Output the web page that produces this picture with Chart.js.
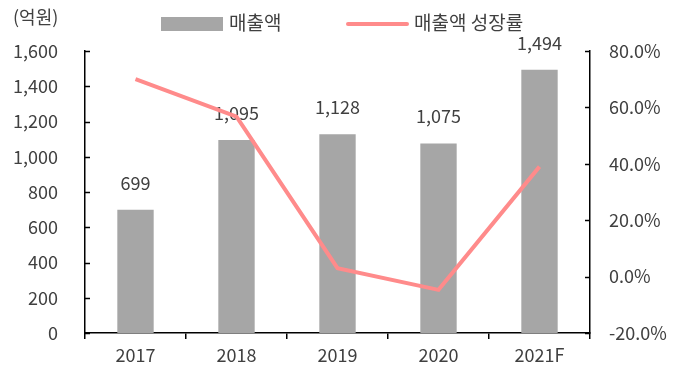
<!DOCTYPE html>
<html>
<head>
<meta charset="utf-8">
<script src="https://cdn.jsdelivr.net/npm/chart.js@4/dist/chart.umd.min.js"></script>
<style>
  html, body { margin: 0; padding: 0; background: #fff; }
  #wrap { width: 680px; height: 383px; position: relative; }
</style>
</head>
<body>
<div id="wrap"><canvas id="salesChart" width="680" height="383"></canvas></div>
<script>
'use strict';

const years = ['2017', '2018', '2019', '2020', '2021F'];
const sales = [699, 1095, 1128, 1075, 1494];
const growth = [70.0, 56.7, 3.0, -4.7, 39.0];
const leftTicks = [0, 200, 400, 600, 800, 1000, 1200, 1400, 1600];
const rightTicks = [-20, 0, 20, 40, 60, 80];

const unitLabel = '(억원)';
const barLabel = '매출액';
const lineLabel = '매출액 성장률';

const textColor = '#404040';
const barColor = '#a6a6a6';
const lineColor = '#ff8b8b';
const fontFamily = '"Noto Sans CJK KR", "Noto Sans", sans-serif';

// labels above bars, drawn under the line
const barValues = {
  id: 'barValues',
  afterDatasetDraw(chart, args) {
    if (args.index !== 1) return;
    const ctx = chart.ctx;
    ctx.save();
    ctx.fillStyle = textColor;
    ctx.font = '18px ' + fontFamily;
    ctx.textAlign = 'center';
    ctx.textBaseline = 'middle';
    args.meta.data.forEach((bar, i) => {
      ctx.fillText(sales[i].toLocaleString('en-US'), bar.x, bar.y - 27);
    });
    ctx.restore();
  }
};

// inward tick marks on both value axes, legend and unit
const decorations = {
  id: 'decorations',
  afterDraw(chart) {
    const ctx = chart.ctx;
    const area = chart.chartArea;
    const yL = chart.scales.y;
    const yR = chart.scales.y1;

    ctx.save();
    ctx.strokeStyle = '#000';
    ctx.lineWidth = 1.5;
    leftTicks.forEach(v => {
      const py = Math.round(yL.getPixelForValue(v)) + 0.5;
      ctx.beginPath();
      ctx.moveTo(area.left, py);
      ctx.lineTo(area.left + 5, py);
      ctx.stroke();
    });
    rightTicks.forEach(v => {
      const py = Math.round(yR.getPixelForValue(v)) + 0.5;
      ctx.beginPath();
      ctx.moveTo(area.right, py);
      ctx.lineTo(area.right - 5, py);
      ctx.stroke();
    });

    ctx.fillStyle = textColor;
    ctx.textAlign = 'left';
    ctx.textBaseline = 'middle';
    ctx.font = '18px ' + fontFamily;
    ctx.fillText(unitLabel, 13, 17);

    // legend
    ctx.fillStyle = barColor;
    ctx.fillRect(161, 17, 62, 14);
    ctx.fillStyle = textColor;
    ctx.font = '19px ' + fontFamily;
    ctx.fillText(barLabel, 229, 23);

    ctx.strokeStyle = lineColor;
    ctx.lineWidth = 4;
    ctx.lineCap = 'round';
    ctx.beginPath();
    ctx.moveTo(348, 24);
    ctx.lineTo(407, 24);
    ctx.stroke();
    ctx.fillText(lineLabel, 414, 23);
    ctx.restore();
  }
};

new Chart(document.getElementById('salesChart').getContext('2d'), {
  type: 'bar',
  data: {
    labels: years,
    datasets: [
      {
        type: 'line',
        label: lineLabel,
        data: growth,
        yAxisID: 'y1',
        borderColor: lineColor,
        borderWidth: 4,
        pointRadius: 0,
        tension: 0,
        order: 0
      },
      {
        type: 'bar',
        label: barLabel,
        data: sales,
        yAxisID: 'y',
        backgroundColor: barColor,
        barPercentage: 0.36,
        categoryPercentage: 1,
        order: 1
      }
    ]
  },
  plugins: [barValues, decorations],
  options: {
    responsive: false,
    animation: false,
    devicePixelRatio: 1,
    layout: { padding: { top: 51, left: 0, right: 0, bottom: 0 } },
    plugins: {
      legend: { display: false },
      tooltip: { enabled: false }
    },
    scales: {
      x: {
        offset: true,
        grid: {
          offset: true,
          drawOnChartArea: false,
          drawTicks: true,
          tickLength: 6,
          color: '#000',
          lineWidth: 1.5
        },
        border: { display: true, color: '#000', width: 1.5 },
        ticks: {
          color: textColor,
          font: { family: fontFamily, size: 18 },
          padding: 5
        },
        afterFit(scale) { scale.height = 50; }
      },
      y: {
        position: 'left',
        min: 0,
        max: 1600,
        afterBuildTicks(scale) { scale.ticks = leftTicks.map(v => ({ value: v })); },
        grid: { display: false, drawTicks: false },
        border: { display: true, color: '#000', width: 1.5 },
        ticks: {
          color: textColor,
          font: { family: fontFamily, size: 18 },
          padding: 27,
          callback: v => v.toLocaleString('en-US')
        },
        afterFit(scale) { scale.width = 85; }
      },
      y1: {
        position: 'right',
        min: -20,
        max: 80,
        afterBuildTicks(scale) { scale.ticks = rightTicks.map(v => ({ value: v })); },
        grid: { display: false, drawTicks: false },
        border: { display: true, color: '#000', width: 1.5 },
        ticks: {
          color: textColor,
          font: { family: fontFamily, size: 18 },
          padding: 19,
          callback: v => v.toFixed(1) + '%'
        },
        afterFit(scale) { scale.width = 90; }
      }
    }
  }
});
</script>
</body>
</html>
